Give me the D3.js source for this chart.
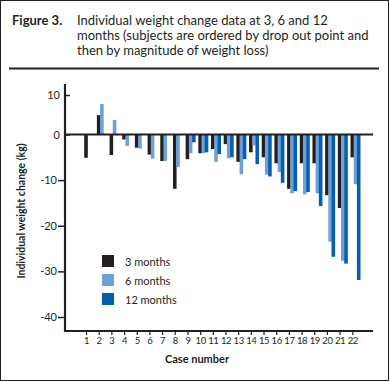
<!DOCTYPE html>
<html>
<head>
<meta charset="utf-8">
<script src="https://cdn.jsdelivr.net/npm/d3@7"></script>
<style>
  body { margin: 0; background: #fff; }
  text { font-family: Lato, "Open Sans", sans-serif; fill: #231f20; }
</style>
</head>
<body>
<svg id="chart" width="390" height="382"></svg>
<script>
'use strict';

// case numbers on the x axis
var cases = ['1','2','3','4','5','6','7','8','9','10','11','12','13','14','15','16','17','18','19','20','21','22'];

// weight change (kg), null = dropped out
var months3 = [-5.1, 4.9, -4.5, -1.1, -2.9, -4.4, -5.8, -11.9, -5.4, -4.1, -3.2, -2.1, -6.0, -3.9, -5.0, -6.3, -11.9, -6.3, -6.3, -13.3, -16.1, -5.0];
var months6 = [null, 7.7, 3.7, -2.5, -3.1, -5.3, -5.8, -7.1, -4.1, -4.1, -6.0, -5.2, -8.7, -2.4, -8.8, -8.2, -12.9, -13.1, -12.9, -23.5, -27.7, -10.9];
var months12 = [null, null, null, null, null, null, null, null, -1.7, -3.9, -4.3, -5.0, -5.4, -6.5, -9.2, -10.6, -12.4, -12.6, -15.7, -26.8, -28.3, -31.9];

var seriesNames = ['3 months', '6 months', '12 months'];
var yTicks = [10, 0, -10, -20, -30, -40];

var colors = ['#231f20', '#6d9fd9', '#065fae'];

var svg = d3.select('#chart');

// frame
svg.append('rect')
  .attr('x', 0.5).attr('y', 0.5)
  .attr('width', 388).attr('height', 380)
  .attr('fill', 'none').attr('stroke', '#231f20').attr('stroke-width', 1);

// title
var title = svg.append('g');
title.append('text').attr('x', 12).attr('y', 25)
  .style('font-size', '13px').style('font-weight', 'bold').text('Figure 3.');
var titleLines = ['Individual weight change data at 3, 6 and 12',
  'months (subjects are ordered by drop out point and',
  'then by magnitude of weight loss)'];
title.selectAll('text.tl').data(titleLines).enter().append('text')
  .attr('class', 'tl')
  .attr('x', 77).attr('y', function(d, i) { return 25 + i * 15; })
  .style('font-size', '13px')
  .text(function(d) { return d; });
svg.append('line').attr('x1', 9).attr('x2', 379).attr('y1', 68.5).attr('y2', 68.5)
  .attr('stroke', '#231f20').attr('stroke-width', 2);

// scales (the printed axis is not evenly spaced above zero)
var x = d3.scalePoint().domain(cases).range([86, 352.3]);
var y = d3.scaleLinear().domain([-40, 0, 10]).range([317, 134.5, 95]);

var barW = 3.6;
var offsets = [-1.8, 1.4, 4.6];
var allSeries = [months3, months6, months12];

allSeries.forEach(function(vals, s) {
  svg.append('g').selectAll('rect')
    .data(vals.map(function(v, i) { return { c: cases[i], v: v }; }).filter(function(d) { return d.v !== null; }))
    .enter().append('rect')
    .attr('x', function(d) { return x(d.c) + offsets[s]; })
    .attr('width', barW)
    .attr('y', function(d) { return Math.min(y(d.v), y(0)); })
    .attr('height', function(d) { return Math.abs(y(d.v) - y(0)); })
    .attr('fill', colors[s]);
});

// zero line
svg.append('line').attr('x1', 65).attr('x2', 373).attr('y1', y(0)).attr('y2', y(0))
  .attr('stroke', '#231f20').attr('stroke-width', 2.2);

// y axis
var yAxis = svg.append('g').attr('transform', 'translate(65,0)')
  .call(d3.axisLeft(y).tickValues(yTicks).tickSize(5).tickSizeOuter(0)
    .tickFormat(function(d) { return d; }));
yAxis.select('.domain').remove();
yAxis.selectAll('.tick line').attr('stroke', '#231f20').attr('stroke-width', 1.5)
  .attr('x2', function(d) { return d >= 0 ? 5 : -7; });
yAxis.selectAll('.tick text')
  .attr('x', function(d) { return d >= 0 ? -5 : -8; })
  .style('font-family', 'Lato, sans-serif').style('font-size', '11px').attr('fill', '#231f20');
svg.append('line').attr('x1', 65).attr('x2', 65).attr('y1', 84).attr('y2', 332)
  .attr('stroke', '#231f20').attr('stroke-width', 2.2);

// x axis
var xAxis = svg.append('g').attr('transform', 'translate(0,331)')
  .call(d3.axisBottom(x).tickSize(4).tickSizeOuter(0));
xAxis.select('.domain').remove();
xAxis.selectAll('.tick line').attr('stroke', '#231f20').attr('stroke-width', 1.2);
xAxis.selectAll('.tick text').attr('y', 6)
  .style('font-family', 'Lato, sans-serif').style('font-size', '9.5px')
  .style('letter-spacing', '-0.4px').attr('fill', '#231f20');
svg.append('line').attr('x1', 64).attr('x2', 373).attr('y1', 331).attr('y2', 331)
  .attr('stroke', '#231f20').attr('stroke-width', 2.2);

svg.append('text').attr('x', 197).attr('y', 363).attr('text-anchor', 'middle')
  .style('font-size', '11px').style('font-weight', 'bold').text('Case number');

svg.append('text')
  .attr('transform', 'translate(25,211) rotate(-90)')
  .attr('text-anchor', 'middle')
  .style('font-size', '10.5px').style('font-weight', 'bold')
  .text('Individual weight change (kg)');

// legend
var legend = svg.append('g').selectAll('g').data(seriesNames).enter().append('g')
  .attr('transform', function(d, i) { return 'translate(102,' + (255 + i * 19) + ')'; });
legend.append('rect').attr('width', 12).attr('height', 12)
  .attr('fill', function(d, i) { return colors[i]; });
legend.append('text').attr('x', 23).attr('y', 11)
  .style('font-size', '11px').text(function(d) { return d; });
</script>
</body>
</html>
